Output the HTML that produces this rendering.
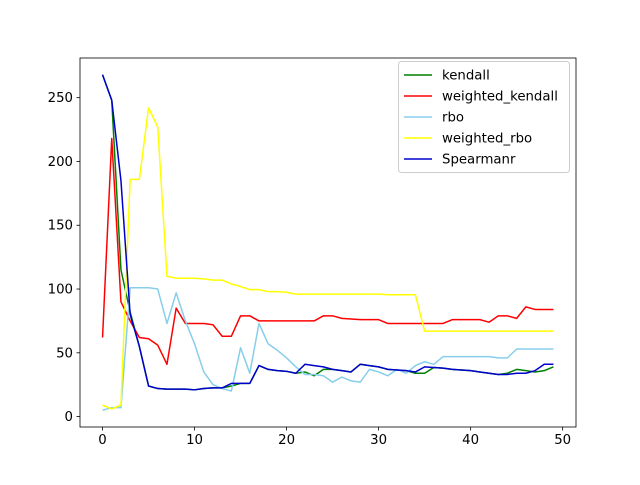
<!DOCTYPE html>
<html><head><meta charset="utf-8"><style>
body{margin:0;background:#fff}
svg text{font-family:"DejaVu Sans","Liberation Sans",sans-serif;font-size:13.3px;fill:#000}
</style></head><body>
<svg id="chart" width="640" height="480">
<rect width="640" height="480" fill="#fff"/>
<g id="plot"></g>
<g id="axes"></g>
</svg>
<script>
const xs = Array.from({length:50},(_, i)=>i);
const kendall = [268,248,115,82,55,24,22,21.5,21.5,21.5,21,22,22.5,22.5,24,26,26,40,37,36,35.5,34,35,32,37,37,36,35,41,40,39,37,36.5,36,34,34,38.5,38,37,36.5,36,35,34,33,34,37,36,35,36,39];
const weightedKendall = [62,218,90,75,62,61,56,41,85,73,73,73,72,63,63,79,79,75,75,75,75,75,75,75,79,79,77,76.5,76,76,76,73,73,73,73,73,73,73,76,76,76,76,74,79,79,77,86,84,84,84];
const rbo = [5,7,7,101,101,101,100,73,97,75,57,35,25,22,20,54,34,73,57,52,46,39,33,33,32,27,31,28,27,37,35,32,37,34,40,43,41,47,47,47,47,47,47,46,46,53,53,53,53,53];
const weightedRbo = [9,6,9,186,186,242,227,110,108.5,108.5,108.5,108,107,107,104,102,99.5,99.5,98,98,97.5,96,96,96,96,96,96,96,96,96,96,95.5,95.5,95.5,95.5,67,67,67,67,67,67,67,67,67,67,67,67,67,67,67];
const spearmanr = [268,248,185,80,55,24,22,21.5,21.5,21.5,21,22,22.5,22.5,26,26,26,40,37,36,35.5,34,41,40,39,37,36,35,41,40,39,37,36.5,36,35,39,38.5,38,37,36.5,36,35,34,33,33,34,34,36,41,41];
const xTicks = [0,10,20,30,40,50];
const yTicks = [0,50,100,150,200,250];
const seriesNames = ["kendall","weighted_kendall","rbo","weighted_rbo","Spearmanr"];
const seriesData = [kendall,weightedKendall,rbo,weightedRbo,spearmanr];
const colors = ["green","red","skyblue","yellow","mediumblue"];

const L=80,R=576,T=58,B=427;
const xmin=-2.45,xmax=51.45,ymin=-8.15,ymax=281.1;
const sx=v=>L+(v-xmin)/(xmax-xmin)*(R-L);
const sy=v=>B-(v-ymin)/(ymax-ymin)*(B-T);
const NS="http://www.w3.org/2000/svg";
function mk(t,a,p){const e=document.createElementNS(NS,t);for(const k in a)e.setAttribute(k,a[k]);p.appendChild(e);return e;}
const plot=document.getElementById('plot'),axes=document.getElementById('axes');
seriesData.forEach((d,i)=>{
  const pl=mk('polyline',{points:d.map((v,j)=>sx(xs[j])+','+sy(v)).join(' '),fill:'none',stroke:colors[i],'stroke-width':1.5,'stroke-linejoin':'round'},plot);
  
  
});
const frame=mk('rect',{x:L,y:T,width:R-L,height:B-T,fill:'none',stroke:'#000','stroke-width':0.8},axes);


xTicks.forEach(t=>{
  mk('line',{x1:sx(t),x2:sx(t),y1:B,y2:B+3.5,stroke:'#000','stroke-width':0.8},axes);
  const tx=mk('text',{x:sx(t),y:B+17,'text-anchor':'middle'},axes);tx.textContent=t;
  
  
});
yTicks.forEach(t=>{
  mk('line',{x1:L-3.5,x2:L,y1:sy(t),y2:sy(t),stroke:'#000','stroke-width':0.8},axes);
  const tx=mk('text',{x:L-7,y:sy(t)+4.5,'text-anchor':'end'},axes);tx.textContent=t;
  
  
});
const lg=mk('g',{},axes);


mk('rect',{x:398.5,y:61.5,width:171,height:111,rx:3,fill:'#fff','fill-opacity':0.8,stroke:'#ccc'},lg);
seriesNames.forEach((n,i)=>{
  const y=75+i*21;
  mk('line',{x1:404,x2:432,y1:y,y2:y,stroke:colors[i],'stroke-width':1.5},lg);
  const tx=mk('text',{x:442,y:y+4.5},lg);tx.textContent=n;
  
  
});
</script>
</body></html>
